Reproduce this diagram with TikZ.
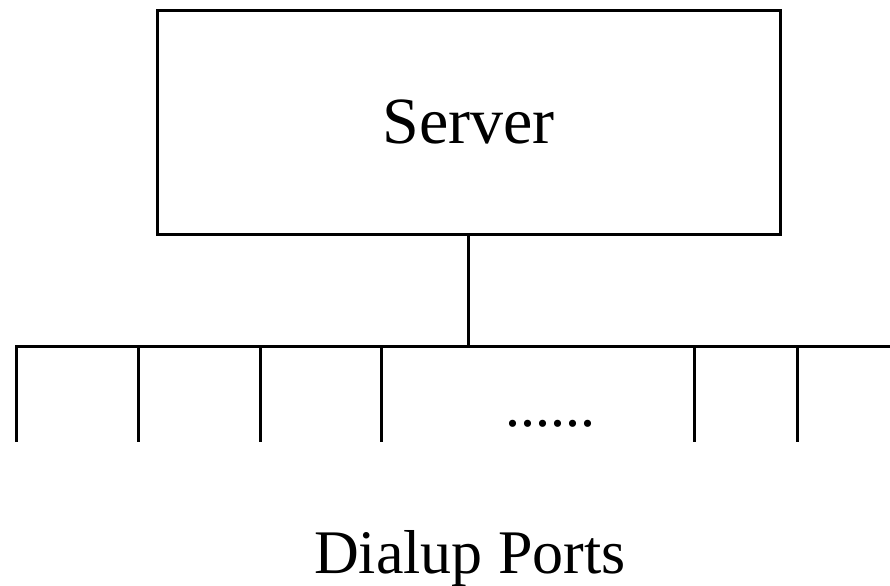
\documentclass[tikz,border=0pt]{standalone}
\usepackage{fontspec}
\setmainfont{Liberation Serif}
\tikzset{every picture/.style={x=0.5pt,y=-0.5pt}}
\tikzset{wire/.style={line width=1.5pt}}

\begin{document}
\begin{tikzpicture}
    \useasboundingbox (0,0) rectangle (890,585);
    % server box
    \node[draw, line width=1.5pt, minimum width=311.5pt, minimum height=112pt,
      font=\fontsize{33}{36}\selectfont] (server) at (468.5,122) {Server};
    % bus line
    \coordinate (tap) at (server.south |- 0,346);
    \coordinate (busL) at (15,346);
    \coordinate (busR) at (890,346);
    \draw[wire] (server.south) -- (tap);
    \draw[wire] (busL) -- (busR);
    % ports
    \foreach \x [count=\i] in {16,138,260,381,694,797} {
      \coordinate (port\i) at (\x,346);
      \coordinate (end\i) at (\x,442);
      \draw[wire] (port\i) -- (end\i);
    }
    \node[anchor=base, inner sep=0pt, font=\fontsize{30}{32}\selectfont] (dots) at (550,426) {......};
    \node[anchor=base, inner sep=0pt, font=\fontsize{31}{34}\selectfont] (label) at (470,573) {Dialup Ports};
\end{tikzpicture}
\end{document}
